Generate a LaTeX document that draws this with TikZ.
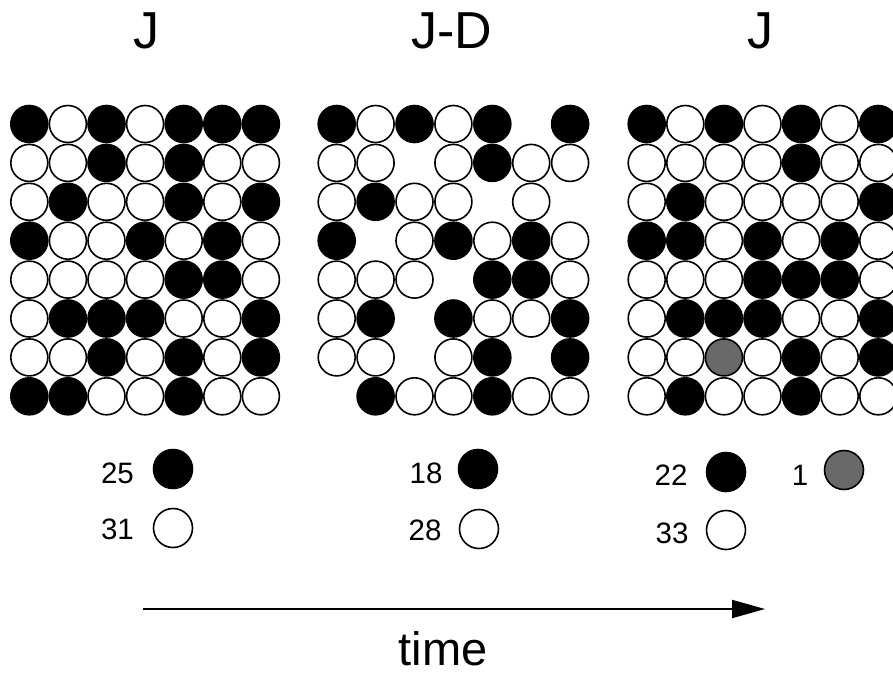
\documentclass[tikz,border=0pt]{standalone}
\usepackage{fontspec}
\setmainfont{Liberation Sans}
\usetikzlibrary{arrows.meta}
\definecolor{stipple}{RGB}{105,105,105}
\begin{document}
\begin{tikzpicture}[x=1pt,y=-1pt,
  cell/.style={circle,inner sep=0pt,minimum size=37pt,line width=1.6pt},
  cellB/.style={cell,draw=black,fill=black},
  cellW/.style={cell,draw=black,fill=white},
  cellG/.style={cell,draw=black,fill=stipple},
  cellE/.style={cell},
  key/.style={circle,inner sep=0pt,minimum size=39pt,line width=1.6pt,draw=black},
  num/.style={font=\fontsize{29.5}{29.5}\selectfont,inner sep=0pt,anchor=base},
  title/.style={font=\fontsize{52}{52}\selectfont,inner sep=0pt,anchor=base},
  timelabel/.style={font=\fontsize{47}{47}\selectfont,inner sep=0pt,anchor=base},
  timearrow/.style={line width=2pt,-{Triangle[length=33pt,width=18pt]}}
]
\useasboundingbox (0,0) rectangle (893,673);
\clip (0,0) rectangle (893,673);

% titles
\node[title] (t1) at (146,48) {J};
\node[title] (t2) at (452,48) {J-D};
\node[title] (t3) at (760,48) {J};

% grid 1
\foreach \row [count=\r] in {{B,W,B,W,B,B,B},{W,W,B,W,B,W,W},{W,B,W,W,B,W,B},{B,W,W,B,W,B,W},{W,W,W,W,B,B,W},{W,B,B,B,W,W,B},{W,W,B,W,B,W,B},{B,B,W,W,B,W,W}}{
  \foreach \v [count=\c] in \row {
    \node[cell\v] (ga-\r-\c) at ({29.3+(\c-1)*38.6},{124+(\r-1)*38.9}) {};
  }
}
% grid 2
\foreach \row [count=\r] in {{B,W,B,W,B,E,B},{W,W,E,W,B,W,W},{W,B,W,W,E,W,E},{B,E,W,B,W,B,W},{W,W,W,E,B,B,W},{W,B,E,B,W,W,B},{W,W,E,W,B,E,B},{E,B,W,W,B,W,W}}{
  \foreach \v [count=\c] in \row {
    \node[cell\v] (gb-\r-\c) at ({336.7+(\c-1)*38.9},{124+(\r-1)*38.9}) {};
  }
}
% grid 3
\foreach \row [count=\r] in {{B,W,B,W,B,W,B},{W,W,W,W,B,W,W},{W,B,W,W,W,W,B},{B,B,W,B,W,B,W},{W,W,W,B,B,B,W},{W,B,B,B,W,W,B},{W,W,G,W,B,W,B},{W,B,W,W,B,W,W}}{
  \foreach \v [count=\c] in \row {
    \node[cell\v] (gc-\r-\c) at ({646.7+(\c-1)*38.6},{124+(\r-1)*38.9}) {};
  }
}

% legends
\node[num] (n25) at (117.5,483) {25};
\node[key,fill=black] (k25) at (173,469) {};
\node[num] (n31) at (117.5,539) {31};
\node[key,fill=white] (k31) at (173,528) {};

\node[num] (n18) at (426,483) {18};
\node[key,fill=black] (k18) at (478,469) {};
\node[num] (n28) at (425,540) {28};
\node[key,fill=white] (k28) at (479,529) {};

\node[num] (n22) at (671,485) {22};
\node[key,fill=black] (k22) at (726,472) {};
\node[num] (n1) at (800,485) {1};
\node[key,fill=stipple] (k1) at (844,470) {};
\node[num] (n33) at (672,543) {33};
\node[key,fill=white] (k33) at (726,530) {};

% time arrow
\coordinate (ts) at (143,609);
\coordinate (te) at (765,609);
\draw[timearrow] (ts) -- (te);
\node[timelabel] (time) at (443,665) {time};
\end{tikzpicture}
\end{document}
